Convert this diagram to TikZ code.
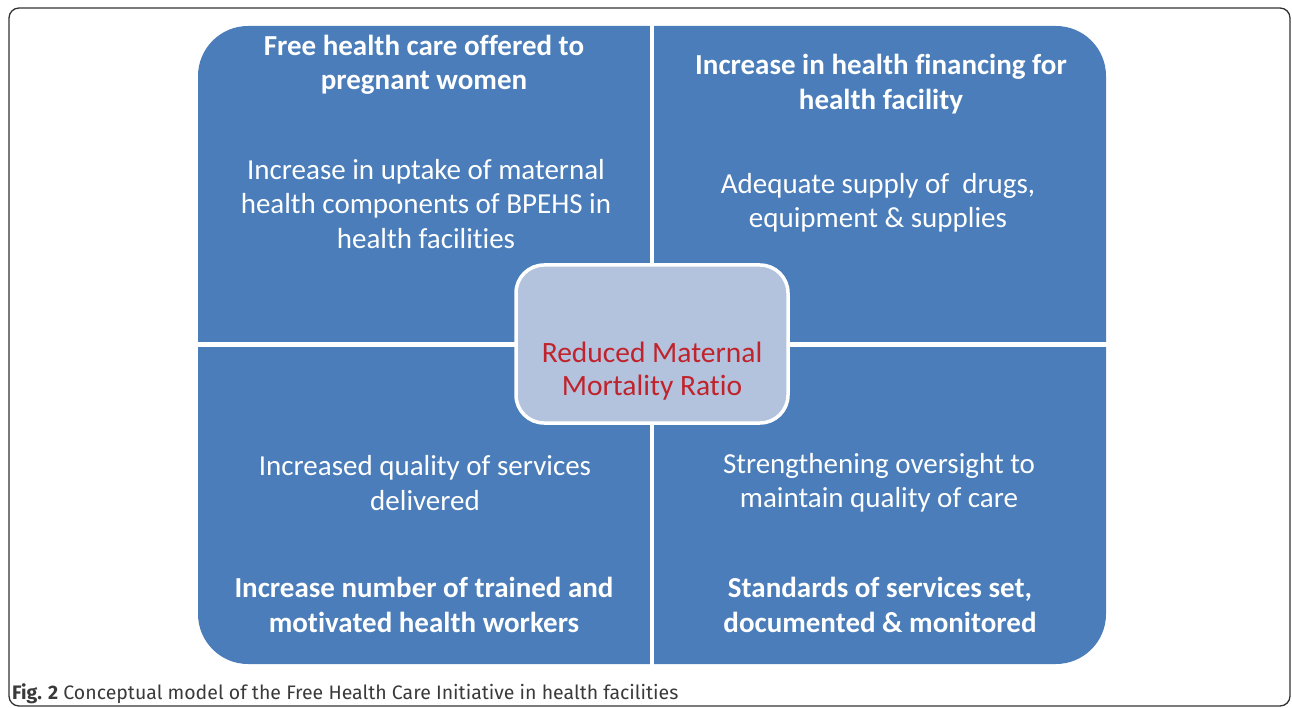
\documentclass[tikz,border=0pt]{standalone}
\usepackage{fontspec}
\setmainfont{Carlito}[Ligatures=NoCommon]
\newfontfamily\capfont{Fira Sans}[Ligatures=NoCommon]
\definecolor{quadblue}{HTML}{4A7DB9}
\definecolor{centerfill}{HTML}{B3C3DE}
\definecolor{redtxt}{HTML}{C0232B}
\definecolor{framecol}{HTML}{333333}
\definecolor{captext}{HTML}{3A3A3A}
\begin{document}
\begin{tikzpicture}[x=1pt,y=-1pt,
  qtext/.style={text=white,align=center,inner sep=0pt,font=\fontsize{29}{34.5}\selectfont},
  qtitle/.style={qtext,font=\fontsize{29}{34.5}\selectfont\bfseries},
  ctext/.style={text=redtxt,align=center,inner sep=0pt,font=\fontsize{29.5}{32.5}\selectfont}]
\useasboundingbox (0,0) rectangle (1292,708);
% outer frame
\draw[framecol,line width=1.3pt,rounded corners=10pt] (9,8) rectangle (1290,706);
% blue block
\fill[quadblue,rounded corners=50pt] (198,26) rectangle (1106,664);
% white dividers
\fill[white] (650,20) rectangle (654,670);
\fill[white] (190,342) rectangle (1112,347);
% center box
\node[draw=white,line width=3.5pt,fill=centerfill,rounded corners=28pt,
      minimum width=272pt,minimum height=158pt,inner sep=0pt] (ctr) at (652,344) {};
\node[ctext] (ctrtxt) at (652,371) {Reduced Maternal\\Mortality Ratio};
% top-left
\node[qtitle] (tlt) at (424,65) {Free health care offered to\\pregnant women};
\node[qtext] (tlb) at (426,204) {Increase in uptake of maternal\\health components of BPEHS in\\health facilities};
% top-right
\node[qtitle] (trt) at (881,84) {Increase in health financing for\\health facility};
\node[qtext] (trb) at (878,203) {Adequate supply of\ \ drugs,\\equipment \& supplies};
% bottom-left
\node[qtext] (blb) at (425,483) {Increased quality of services\\delivered};
\node[qtitle] (blt) at (424,605) {Increase number of trained and\\motivated health workers};
% bottom-right
\node[qtext] (brb) at (879,483) {Strengthening oversight to\\maintain quality of care};
\node[qtitle] (brt) at (880,605) {Standards of services set,\\documented \& monitored};
% caption
\node[anchor=base west,inner sep=0pt,text=captext,font=\capfont\fontsize{19.5}{22}\selectfont] (cap) at (12,699)
  {\textbf{Fig. 2} Conceptual model of the Free Health Care Initiative in health facilities};
\end{tikzpicture}
\end{document}
